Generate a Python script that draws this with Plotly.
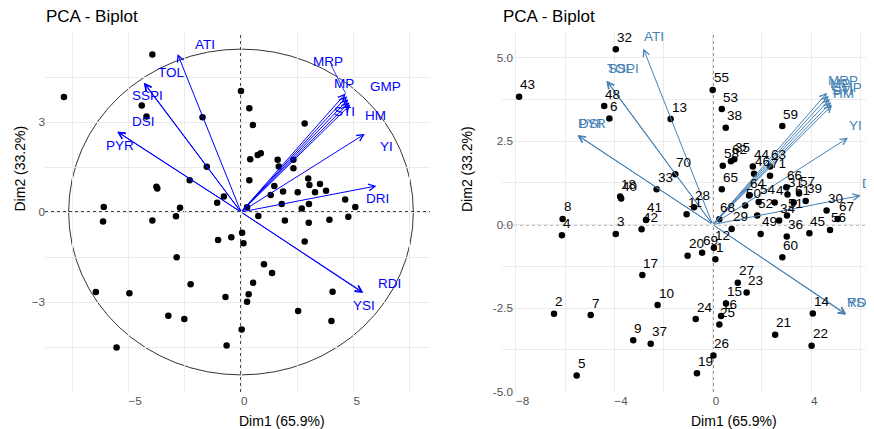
import plotly.graph_objects as go

# ---------------- data ----------------
ids = [str(i) for i in range(1, 72)]
dim1 = [0.11, -6.45, -3.94, -6.13, -5.53, -4.20, -4.96, -6.10, -3.23, -2.24,
        -1.06, 0.05, -1.71, 4.07, 0.54, 0.34, -2.86, -3.76, -0.64, -1.02,
        2.54, 4.02, 1.38, -0.69, 0.27, 0.03, 1.02, -0.76, 0.77, 4.63,
        3.04, -3.94, -2.28, 2.70, 0.88, 3.01, -2.52, 0.53, 3.78, -3.72,
        -2.71, -2.89, -7.87, 1.63, 3.93, 1.68, 2.52, -4.41, 1.95, 1.32,
        3.02, 1.81, 0.37, 1.87, 0.00, 4.77, 3.51, 0.41, 2.83, 2.83,
        3.29, 0.74, 2.33, 1.48, 0.37, 2.99, 5.08, 0.27, -0.43, -1.52,
        2.33]
dim2 = [-1.04, -2.67, -0.28, -0.32, -4.52, 3.18, -2.71, 0.17, -3.46, -2.41,
        0.31, -0.69, 3.16, -2.66, -2.36, -2.74, -1.51, 0.84, -4.45, -0.93,
        -3.30, -3.63, -2.03, -2.83, -2.99, -3.92, -1.74, 0.52, -0.13, 0.42,
        0.90, 5.25, 1.06, 0.12, 1.96, -0.36, -3.57, 2.90, 0.71, 0.78,
        0.14, -0.14, 3.83, 1.74, -0.26, 1.52, 0.66, 3.55, -0.28, 0.57,
        0.27, 0.27, 3.46, 0.68, 4.03, -0.16, 0.93, 1.76, 2.95, -0.98,
        0.66, 1.90, 1.74, 0.87, 1.06, 1.12, 0.17, 0.16, -0.84, 1.51,
        1.46]

var_names = ["ATI", "TOL", "SSPI", "DSI", "PYR", "MRP", "MP", "GMP",
             "STI", "HM", "YI", "DRI", "RDI", "YSI"]
var_x = [-2.82, -4.32, -4.30, -5.49, -5.50, 4.65, 4.72, 4.77,
         4.82, 4.86, 5.50, 6.02, 5.43, 5.42]
var_y = [5.27, 4.30, 4.31, 2.68, 2.67, 3.95, 3.86, 3.76,
         3.66, 3.58, 2.60, 0.87, -2.68, -2.70]

# repelled label positions (left panel)
lab_x = [-2.08, -3.75, -4.89, -4.89, -6.04, 3.14, 4.10, 5.70,
         4.10, 5.47, 6.13, 5.51, 6.03, 4.92]
lab_y = [5.60, 4.66, 3.88, 3.01, 2.23, 5.01, 4.29, 4.20,
         3.34, 3.23, 2.18, 0.46, -2.38, -3.13]
mrp_segment_start = (4.00, 4.90)

circle_rx = 7.66
circle_ry = 5.43

x_ticks_left = [-5, 0, 5]
x_minor_left = [-7.5, -2.5, 2.5, 7.5]
y_ticks_left = [-3, 0, 3]
y_minor_left = [-4.5, -1.5, 1.5, 4.5]
x_ticks_right = [-8, -4, 0, 4]
x_minor_right = [-6, -2, 2, 6]
y_ticks_right = [-5.0, -2.5, 0.0, 2.5, 5.0]
y_ticktext_right = ["-5.0", "-2.5", "0.0", "2.5", "5.0"]
y_minor_right = [-3.75, -1.25, 1.25, 3.75]

title_text = "PCA - Biplot"
xlab = "Dim1 (65.9%)"
ylab = "Dim2 (33.2%)"

# ---------------- figure ----------------
FONT = "Liberation Sans, Arial, Helvetica, sans-serif"
GRID = "#EBEBEB"
TICKC = "#555555"
LEFT_COL = "#0000FF"
RIGHT_COL = "#4682B4"

OFF = 8  # page body margin of the browser
W, H = 874 - OFF, 429 - OFF
ML, MR, MT, MB = 45 - OFF, 0, 32 - OFF, 37
PW, PH = W - ML - MR, H - MT - MB


def px2paper(px, py):
    """screen pixel (as in the target picture) -> paper coords"""
    fx, fy = px - OFF, py - OFF
    return (fx - ML) / PW, (H - MB - fy) / PH


fig = go.Figure()
fig.add_trace(go.Scatter(x=dim1, y=dim2, mode="markers",
                         marker=dict(color="black", size=6.5),
                         xaxis="x", yaxis="y", hoverinfo="skip"))
fig.add_trace(go.Scatter(x=dim1, y=dim2, mode="markers",
                         marker=dict(color="black", size=6.5),
                         xaxis="x2", yaxis="y2", hoverinfo="skip"))

axis_common = dict(showline=False, zeroline=False, ticks="", showgrid=True,
                   gridcolor=GRID, gridwidth=1, automargin=False,
                   tickfont=dict(family=FONT, size=11.7, color=TICKC))

x_left_dom = [0, (430 - 45) / PW]
x_right_dom = [(502 - 45) / PW, 1]

fig.update_layout(
    width=W, height=H, autosize=False,
    margin=dict(l=ML, r=MR, t=MT, b=MB, pad=0),
    paper_bgcolor="white", plot_bgcolor="white",
    showlegend=False,
    xaxis=dict(domain=x_left_dom, range=[-8.711, 8.4], tickvals=x_ticks_left,
               ticklabelposition="outside right", anchor="y",
               minor=dict(tickvals=x_minor_left, showgrid=True,
                          gridcolor=GRID, gridwidth=0.7),
               **axis_common),
    yaxis=dict(domain=[0, 1], range=[-6.0, 6.0], tickvals=y_ticks_left,
               anchor="x", ticklabelstandoff=-1,
               minor=dict(tickvals=y_minor_left, showgrid=True,
                          gridcolor=GRID, gridwidth=0.7),
               **axis_common),
    xaxis2=dict(domain=x_right_dom, range=[-8.565, 6.557],
                tickvals=x_ticks_right, ticklabelposition="outside right",
                anchor="y2",
                minor=dict(tickvals=x_minor_right, showgrid=True,
                           gridcolor=GRID, gridwidth=0.7),
                **axis_common),
    yaxis2=dict(domain=[0, 1], range=[-5.012, 5.766], tickvals=y_ticks_right,
                ticktext=y_ticktext_right, anchor="x2", ticklabelstandoff=-12,
                minor=dict(tickvals=y_minor_right, showgrid=True,
                           gridcolor=GRID, gridwidth=0.7),
                **axis_common),
)

shapes = []
# circle (left)
shapes.append(dict(type="circle", xref="x", yref="y",
                   x0=-circle_rx, x1=circle_rx, y0=-circle_ry, y1=circle_ry,
                   line=dict(color="black", width=0.8), layer="below"))
# zero lines
for xr, yr in (("x", "y"), ("x2", "y2")):
    shapes.append(dict(type="line", xref=xr + " domain", yref=yr,
                       x0=0, x1=1, y0=0, y1=0,
                       line=dict(color="black", width=1.4, dash="3px,3px"),
                       layer="below"))
    shapes.append(dict(type="line", xref=xr, yref=yr + " domain",
                       x0=0, x1=0, y0=0, y1=1,
                       line=dict(color="black", width=1.4, dash="3px,3px"),
                       layer="below"))
# repel segment for MRP label
i_mrp = var_names.index("MRP")
shapes.append(dict(type="line", xref="x", yref="y",
                   x0=mrp_segment_start[0], y0=mrp_segment_start[1],
                   x1=var_x[i_mrp], y1=var_y[i_mrp],
                   line=dict(color=LEFT_COL, width=0.8)))
fig.update_layout(shapes=shapes)

ann = []
# arrows
for xr, yr, col in (("x", "y", LEFT_COL), ("x2", "y2", RIGHT_COL)):
    for vx, vy in zip(var_x, var_y):
        ann.append(dict(x=vx, y=vy, ax=0, ay=0, xref=xr, yref=yr,
                        axref=xr, ayref=yr, text="", showarrow=True,
                        arrowhead=5, arrowsize=1.3, arrowwidth=1,
                        arrowcolor=col, standoff=0))
# left panel variable labels (repelled)
for name, lx, ly in zip(var_names, lab_x, lab_y):
    ann.append(dict(x=lx, y=ly, xref="x", yref="y", text=name,
                    showarrow=False, xanchor="left", yanchor="middle",
                    xshift=-1, font=dict(family=FONT, size=13.5, color=LEFT_COL)))
# right panel variable labels
for name, vx, vy in zip(var_names, var_x, var_y):
    ann.append(dict(x=vx, y=vy, xref="x2", yref="y2", text=name,
                    showarrow=False, xanchor="left", yanchor="middle",
                    xshift=-1, yshift=12,
                    font=dict(family=FONT, size=13.5, color=RIGHT_COL)))
# right panel point labels
for lab, px_, py_ in zip(ids, dim1, dim2):
    ann.append(dict(x=px_, y=py_, xref="x2", yref="y2", text=lab,
                    showarrow=False, xanchor="left", yanchor="middle",
                    xshift=-1, yshift=12,
                    font=dict(family=FONT, size=13.5, color="black")))

# titles and axis titles
for left_px in (45, 501.7):
    x, y = px2paper(left_px, 17)
    ann.append(dict(x=x, y=y, xref="paper", yref="paper", text=title_text,
                    showarrow=False, xanchor="left", yanchor="middle",
                    xshift=-1, font=dict(family=FONT, size=17, color="black")))
for left_px in (237.7, 690):
    x, y = px2paper(left_px, 421)
    ann.append(dict(x=x, y=y, xref="paper", yref="paper", text=xlab,
                    showarrow=False, xanchor="left", yanchor="middle",
                    xshift=-1, font=dict(family=FONT, size=14, color="black")))
for cx in (19, 466.5):
    x, y = px2paper(cx, 168.5)
    ann.append(dict(x=x, y=y, xref="paper", yref="paper", text=ylab,
                    showarrow=False, xanchor="center", yanchor="middle",
                    textangle=-90,
                    font=dict(family=FONT, size=14, color="black")))

fig.update_layout(annotations=ann)
fig.write_html("out.html")
